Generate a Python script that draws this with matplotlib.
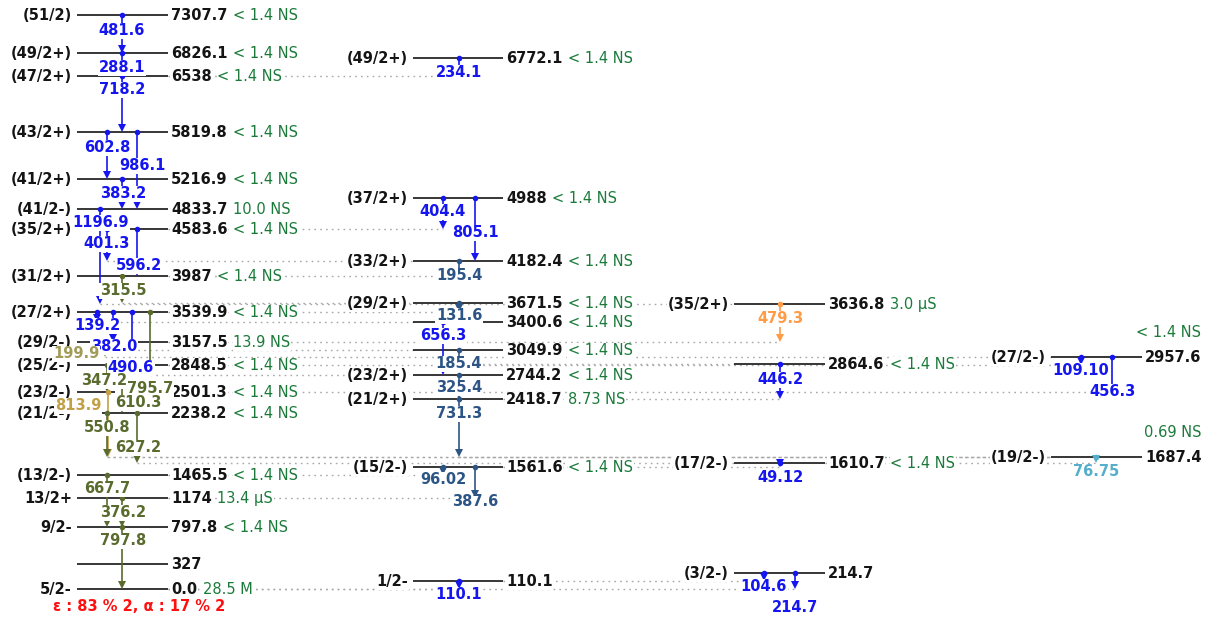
import matplotlib
matplotlib.use("Agg")
import matplotlib.pyplot as plt

# ---------------- level data ----------------
level_energy = ["7307.7", "6826.1", "6538", "5819.8", "5216.9", "4833.7", "4583.6",
                "3987", "3539.9", "3157.5", "2848.5", "2501.3", "2238.2", "1465.5",
                "1174", "797.8", "327", "0.0",
                "6772.1", "4988", "4182.4", "3671.5", "3400.6", "3049.9", "2744.2",
                "2418.7", "1561.6", "110.1",
                "3636.8", "2864.6", "1610.7", "214.7",
                "2957.6", "1687.4"]
level_spin = ["(51/2)", "(49/2+)", "(47/2+)", "(43/2+)", "(41/2+)", "(41/2-)", "(35/2+)",
              "(31/2+)", "(27/2+)", "(29/2-)", "(25/2-)", "(23/2-)", "(21/2-)", "(13/2-)",
              "13/2+", "9/2-", "", "5/2-",
              "(49/2+)", "(37/2+)", "(33/2+)", "(29/2+)", "", "", "(23/2+)",
              "(21/2+)", "(15/2-)", "1/2-",
              "(35/2+)", "", "(17/2-)", "(3/2-)",
              "(27/2-)", "(19/2-)"]
level_halflife = ["< 1.4 NS", "< 1.4 NS", "< 1.4 NS", "< 1.4 NS", "< 1.4 NS", "10.0 NS",
                  "< 1.4 NS", "< 1.4 NS", "< 1.4 NS", "13.9 NS", "< 1.4 NS", "< 1.4 NS",
                  "< 1.4 NS", "< 1.4 NS", "13.4 µS", "< 1.4 NS", "", "28.5 M",
                  "< 1.4 NS", "< 1.4 NS", "< 1.4 NS", "< 1.4 NS", "< 1.4 NS", "< 1.4 NS",
                  "< 1.4 NS", "8.73 NS", "< 1.4 NS", "",
                  "3.0 µS", "< 1.4 NS", "< 1.4 NS", "",
                  "< 1.4 NS", "0.69 NS"]
level_column = [0] * 18 + [1] * 10 + [2] * 4 + [3] * 2
decay_modes = "ε : 83 % 2, α : 17 % 2"

# ---------------- gamma data ----------------
gamma_energy = ["481.6", "288.1", "718.2", "602.8", "986.1", "383.2", "1196.9", "401.3",
                "596.2", "315.5", "139.2", "382.0", "490.6", "795.7", "199.9", "347.2",
                "610.3", "813.9", "550.8", "627.2", "667.7", "376.2", "797.8",
                "234.1", "404.4", "805.1", "195.4", "131.6", "656.3", "185.4", "325.4",
                "731.3", "96.02", "387.6", "110.1",
                "479.3", "446.2", "49.12", "104.6", "214.7",
                "109.10", "456.3", "76.75"]
gamma_from = [0, 1, 2, 3, 3, 4, 5, 6, 6, 7, 8, 8, 8, 8, 9, 10, 10, 11, 12, 12, 13, 14, 15,
              18, 19, 19, 20, 21, 22, 23, 24, 25, 26, 26, 27,
              28, 29, 30, 31, 31,
              32, 32, 33]
gamma_to = [1, 2, 3, 4, 5, 5, 28, 20, 7, 21, 22, 9, 23, 24, 32, 11, 12, 33, 33, 30, 15, 15, 17,
            2, 6, 20, 7, 8, 24, 29, 25, 33, 13, 14, 17,
            9, 25, 26, 27, 17,
            10, 11, 30]
gamma_class = ["b", "b", "b", "b", "b", "b", "b", "b", "b", "o", "b", "b", "b", "o", "k", "o",
               "o", "g", "o", "o", "o", "o", "o",
               "b", "b", "b", "s", "s", "b", "s", "s", "s", "s", "s", "b",
               "r", "b", "b", "b", "b",
               "b", "b", "c"]

# ---------------- layout ----------------
W, H = 1211, 619
col_left = [77, 413, 734, 1051]
col_right = [168, 503, 825, 1142]
level_row = [15, 53, 76, 132, 179, 209, 229, 276, 312, 342, 365, 392, 413, 475, 498, 527,
             564, 589,
             58, 198, 261, 303, 322, 350, 375, 399, 467, 581,
             304, 364, 463, 573,
             357, 457]
short_line = {11: 115}
gamma_x = [122, 122, 122, 107, 137, 122, 100, 107, 137, 122, 97, 113, 132, 150, 105, 107,
           122, 108, 107, 137, 107, 122, 122,
           459, 443, 475, 459, 459, 443, 459, 459, 459, 443, 475, 459,
           780, 780, 780, 764, 795,
           1081, 1112, 1096]
label_x = [122, 122, 122, 107, 142, 123, 101, 107, 139, 123, 97, 114, 131, 150, 76, 104,
           138, 78, 107, 138, 107, 123, 123,
           459, 443, 475, 459, 459, 443, 459, 459, 459, 443, 475, 459,
           780, 780, 780, 764, 795,
           1081, 1112, 1096]
label_y = [30, 67, 89, 147, 165, 193, 222, 243, 265, 290, 325, 346, 367, 388, 353, 380,
           402, 405, 427, 447, 488, 512, 540,
           72, 211, 232, 275, 315, 335, 363, 387, 413, 479, 501, 594,
           318, 379, 477, 586, 607,
           370, 391, 471]

palette = {"b": "#1515f0", "o": "#5a6b2e", "k": "#a09c58", "g": "#c3a048",
           "s": "#2c5586", "r": "#ff9a45", "c": "#55aecb"}
BLACK = "#141414"
GREEN = "#1b7a3a"
DOT = "#a8a8a8"
FS = 10.5
BASE = 5.3

fig = plt.figure(figsize=(W / 100, H / 100), dpi=100)
ax = fig.add_axes([0, 0, 1, 1])
ax.set_xlim(0, W)
ax.set_ylim(H, 0)
ax.axis("off")

white = dict(facecolor="white", edgecolor="none", pad=0.4)

# extension lines of levels that are reached from another column
for g in range(len(gamma_energy)):
    src, dst = gamma_from[g], gamma_to[g]
    sc, tc = level_column[src], level_column[dst]
    if sc == tc:
        continue
    y = level_row[dst]
    x = gamma_x[g]
    if sc < tc:
        xs = [x, col_left[tc]]
    else:
        xs = [col_right[tc], x]
    ax.plot(xs, [y, y], color=DOT, lw=1.0, dashes=(1.2, 3.0), zorder=1)

# levels
for i, e in enumerate(level_energy):
    c = level_column[i]
    y = level_row[i]
    x1 = short_line.get(i, col_right[c])
    ax.plot([col_left[c], x1], [y, y], color=BLACK, lw=1.2, zorder=2,
            solid_capstyle="butt")
    if level_spin[i]:
        ax.text(col_left[c] - 5, y + BASE, level_spin[i], ha="right", va="baseline",
                fontsize=FS, fontweight="bold", color=BLACK, zorder=4, bbox=white)
    et = ax.text(col_right[c] + 3, y + BASE, e, ha="left", va="baseline", fontsize=FS,
                 fontweight="bold", color=BLACK, zorder=4, bbox=white)
    hl = level_halflife[i]
    if hl:
        if c == 3:
            ax.annotate(hl, xy=(1, 0.5), xycoords=et, xytext=(0, 18),
                        textcoords="offset points", ha="right", va="center",
                        fontsize=FS, color=GREEN, zorder=4)
        else:
            ax.annotate(hl, xy=(1, 0), xycoords=et, xytext=(4, 0),
                        textcoords="offset points", ha="left", va="bottom",
                        fontsize=FS, color=GREEN, zorder=4, bbox=white)

ax.text(139, 606 + BASE, decay_modes, ha="center", va="baseline", fontsize=FS,
        fontweight="bold", color="#ff1010", zorder=4)

# gamma transitions
for g, lab in enumerate(gamma_energy):
    col = palette[gamma_class[g]]
    x = gamma_x[g]
    y0 = level_row[gamma_from[g]]
    y1 = level_row[gamma_to[g]]
    ax.plot([x, x], [y0, y1 - 4], color=col, lw=1.2, zorder=3)
    ax.plot([x], [y0], "o", ms=4, color=col, mew=0, zorder=3)
    ax.plot([x], [y1 - 4.2], "v", ms=6, color=col, mew=0, zorder=3)
    ax.text(label_x[g], label_y[g] + BASE, lab, ha="center", va="baseline", fontsize=FS,
            fontweight="bold", color=col, zorder=5, bbox=white)

fig.savefig("out.png", dpi=100, facecolor="white")
